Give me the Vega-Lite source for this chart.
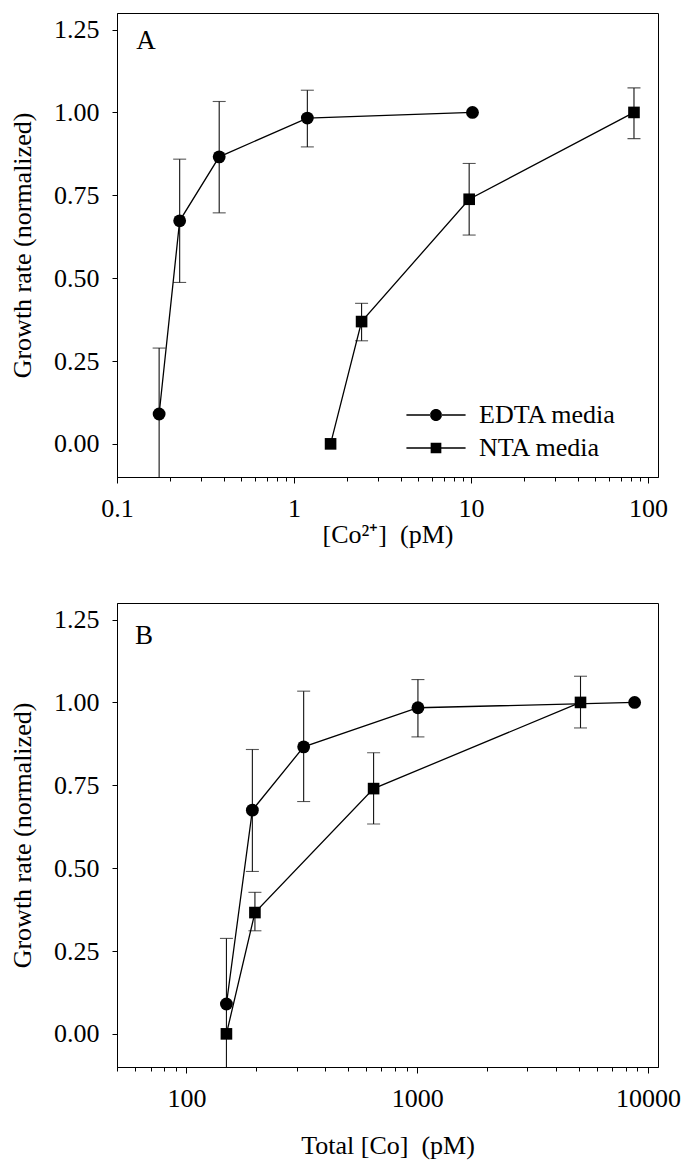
{
  "$schema": "https://vega.github.io/schema/vega-lite/v6.json",
  "background": "white",
  "padding": {"left": 9, "top": 12, "right": 5, "bottom": 2},
  "config": {
    "font": "Liberation Serif",
    "view": {"stroke": "black", "strokeWidth": 1},
    "axis": {
      "domainColor": "black", "tickColor": "black", "labelColor": "black", "titleColor": "black",
      "labelFont": "Liberation Serif", "titleFont": "Liberation Serif",
      "labelFontSize": 26, "titleFontSize": 26, "titleFontWeight": "normal", "grid": false,
      "domainWidth": 1, "tickWidth": 1
    }
  },
  "datasets": {
    "a": [
      {"media": "EDTA media", "x": 0.173, "y": 0.09, "lo": -0.11, "hi": 0.289},
      {"media": "EDTA media", "x": 0.226, "y": 0.673, "lo": 0.487, "hi": 0.859},
      {"media": "EDTA media", "x": 0.378, "y": 0.866, "lo": 0.697, "hi": 1.033},
      {"media": "EDTA media", "x": 1.19, "y": 0.983, "lo": 0.896, "hi": 1.067},
      {"media": "EDTA media", "x": 10.2, "y": 1.0, "lo": null, "hi": null},
      {"media": "NTA media", "x": 1.61, "y": 0.0, "lo": null, "hi": null},
      {"media": "NTA media", "x": 2.41, "y": 0.369, "lo": 0.311, "hi": 0.424},
      {"media": "NTA media", "x": 9.77, "y": 0.738, "lo": 0.63, "hi": 0.846},
      {"media": "NTA media", "x": 83.4, "y": 1.0, "lo": 0.921, "hi": 1.074}
    ],
    "b": [
      {"media": "EDTA media", "x": 149, "y": 0.09, "lo": -0.11, "hi": 0.288},
      {"media": "EDTA media", "x": 193, "y": 0.675, "lo": 0.49, "hi": 0.858},
      {"media": "EDTA media", "x": 322, "y": 0.866, "lo": 0.701, "hi": 1.034},
      {"media": "EDTA media", "x": 1007, "y": 0.984, "lo": 0.896, "hi": 1.069},
      {"media": "EDTA media", "x": 8750, "y": 1.0, "lo": null, "hi": null},
      {"media": "NTA media", "x": 149, "y": 0.0, "lo": null, "hi": null},
      {"media": "NTA media", "x": 198, "y": 0.366, "lo": 0.311, "hi": 0.427},
      {"media": "NTA media", "x": 647, "y": 0.74, "lo": 0.633, "hi": 0.848},
      {"media": "NTA media", "x": 5100, "y": 1.0, "lo": 0.923, "hi": 1.079}
    ]
  },
  "spacing": 126,
  "bounds": "flush",
  "vconcat": [
    {
      "width": 541,
      "height": 464,
      "layer": [
        {
          "data": {"name": "a"},
          "encoding": {
            "x": {
              "field": "x", "type": "quantitative",
              "scale": {"type": "log", "domain": [0.1, 114], "nice": false},
              "axis": {
                "title": "[Co²⁺]\u00a0 (pM)",
                "values": [0.1, 0.2, 0.3, 0.4, 0.5, 0.6, 0.7, 0.8, 0.9, 1, 2, 3, 4, 5, 6, 7, 8, 9, 10, 20, 30, 40, 50, 60, 70, 80, 90, 100],
                "labelExpr": "abs(log(datum.value)/LN10 - round(log(datum.value)/LN10)) < 1e-6 ? format(datum.value, '~g') : ''",
                "tickSize": {"condition": {"test": "abs(log(datum.value)/LN10 - round(log(datum.value)/LN10)) < 1e-6", "value": 6}, "value": 4},
                "labelPadding": 12,
                "titlePadding": 0,
                "labelFlush": false,
                "labelOverlap": false
              }
            },
            "y": {
              "field": "y", "type": "quantitative",
              "scale": {"domain": [-0.1, 1.3], "nice": false, "zero": false},
              "axis": {
                "title": "Growth rate (normalized)",
                "values": [0, 0.25, 0.5, 0.75, 1, 1.25],
                "format": ".2f",
                "tickSize": 5,
                "labelPadding": 13,
                "titlePadding": 18
              }
            }
          },
          "layer": [
            {
              "transform": [{"filter": "datum.hi != null"}],
              "mark": {"type": "rule", "color": "#111", "strokeWidth": 1.1, "clip": true},
              "encoding": {"y": {"field": "lo", "type": "quantitative"}, "y2": {"field": "hi"}}
            },
            {
              "transform": [{"filter": "datum.hi != null"}],
              "mark": {"type": "tick", "orient": "horizontal", "size": 13, "thickness": 1.1, "color": "#111", "clip": true},
              "encoding": {"y": {"field": "hi", "type": "quantitative"}}
            },
            {
              "transform": [{"filter": "datum.hi != null"}],
              "mark": {"type": "tick", "orient": "horizontal", "size": 13, "thickness": 1.1, "color": "#111", "clip": true},
              "encoding": {"y": {"field": "lo", "type": "quantitative"}}
            },
            {
              "mark": {"type": "line", "color": "black", "strokeWidth": 1.3},
              "encoding": {"detail": {"field": "media"}}
            },
            {
              "transform": [{"filter": "datum.media === 'EDTA media'"}],
              "mark": {"type": "point", "shape": "circle", "filled": true, "opacity": 1, "color": "black", "size": 165}
            },
            {
              "transform": [{"filter": "datum.media === 'NTA media'"}],
              "mark": {"type": "point", "shape": "square", "filled": true, "opacity": 1, "color": "black", "size": 135}
            },
            {
              "mark": {"type": "point", "filled": true, "color": "black", "opacity": 0},
              "encoding": {
                "shape": {
                  "field": "media", "type": "nominal",
                  "scale": {"domain": ["EDTA media", "NTA media"], "range": ["M-4.93,-0.11H-0.95V0.11H-4.93Z M0.95,-0.11H4.93V0.11H0.95Z M-1,0A1,1 0 1,0 1,0A1,1 0 1,0 -1,0Z", "M-4.93,-0.11H-0.85V0.11H-4.93Z M0.85,-0.11H4.93V0.11H0.85Z M-0.89,-0.89H0.89V0.89H-0.89Z"]},
                  "legend": {
                    "orient": "none", "legendX": 306, "legendY": 389, "title": null,
                    "labelFont": "Liberation Serif", "labelFontSize": 26, "labelColor": "black",
                    "symbolSize": 144, "labelOffset": 30, "rowPadding": 7, "padding": 0,
                    "symbolOpacity": 1, "symbolFillColor": "black", "symbolStrokeColor": "black", "symbolStrokeWidth": 0
                  }
                }
              }
            }
          ]
        },
        {
          "data": {"values": [{"label": "A"}]},
          "mark": {"type": "text", "fontSize": 27, "font": "Liberation Serif", "color": "black", "align": "center", "baseline": "middle"},
          "encoding": {
            "text": {"field": "label"},
            "x": {"datum": 0.146, "type": "quantitative"},
            "y": {"datum": 1.215, "type": "quantitative"}
          }
        }
      ]
    },
    {
      "width": 541,
      "height": 464,
      "layer": [
        {
          "data": {"name": "b"},
          "encoding": {
            "x": {
              "field": "x", "type": "quantitative",
              "scale": {"type": "log", "domain": [50, 11050], "nice": false},
              "axis": {
                "title": "Total [Co]\u00a0 (pM)",
                "values": [50, 60, 70, 80, 90, 100, 200, 300, 400, 500, 600, 700, 800, 900, 1000, 2000, 3000, 4000, 5000, 6000, 7000, 8000, 9000, 10000],
                "labelExpr": "abs(log(datum.value)/LN10 - round(log(datum.value)/LN10)) < 1e-6 ? format(datum.value, '~g') : ''",
                "tickSize": {"condition": {"test": "abs(log(datum.value)/LN10 - round(log(datum.value)/LN10)) < 1e-6", "value": 6}, "value": 4},
                "labelPadding": 12,
                "titlePadding": 21,
                "labelFlush": false,
                "labelOverlap": false
              }
            },
            "y": {
              "field": "y", "type": "quantitative",
              "scale": {"domain": [-0.1, 1.3], "nice": false, "zero": false},
              "axis": {
                "title": "Growth rate (normalized)",
                "values": [0, 0.25, 0.5, 0.75, 1, 1.25],
                "format": ".2f",
                "tickSize": 5,
                "labelPadding": 13,
                "titlePadding": 18
              }
            }
          },
          "layer": [
            {
              "transform": [{"filter": "datum.hi != null"}],
              "mark": {"type": "rule", "color": "#111", "strokeWidth": 1.1, "clip": true},
              "encoding": {"y": {"field": "lo", "type": "quantitative"}, "y2": {"field": "hi"}}
            },
            {
              "transform": [{"filter": "datum.hi != null"}],
              "mark": {"type": "tick", "orient": "horizontal", "size": 13, "thickness": 1.1, "color": "#111", "clip": true},
              "encoding": {"y": {"field": "hi", "type": "quantitative"}}
            },
            {
              "transform": [{"filter": "datum.hi != null"}],
              "mark": {"type": "tick", "orient": "horizontal", "size": 13, "thickness": 1.1, "color": "#111", "clip": true},
              "encoding": {"y": {"field": "lo", "type": "quantitative"}}
            },
            {
              "mark": {"type": "line", "color": "black", "strokeWidth": 1.3},
              "encoding": {"detail": {"field": "media"}}
            },
            {
              "transform": [{"filter": "datum.media === 'EDTA media'"}],
              "mark": {"type": "point", "shape": "circle", "filled": true, "opacity": 1, "color": "black", "size": 165}
            },
            {
              "transform": [{"filter": "datum.media === 'NTA media'"}],
              "mark": {"type": "point", "shape": "square", "filled": true, "opacity": 1, "color": "black", "size": 135}
            }
          ]
        },
        {
          "data": {"values": [{"label": "B"}]},
          "mark": {"type": "text", "fontSize": 27, "font": "Liberation Serif", "color": "black", "align": "center", "baseline": "middle"},
          "encoding": {
            "text": {"field": "label"},
            "x": {"datum": 65.5, "type": "quantitative"},
            "y": {"datum": 1.2, "type": "quantitative"}
          }
        }
      ]
    }
  ]
}
